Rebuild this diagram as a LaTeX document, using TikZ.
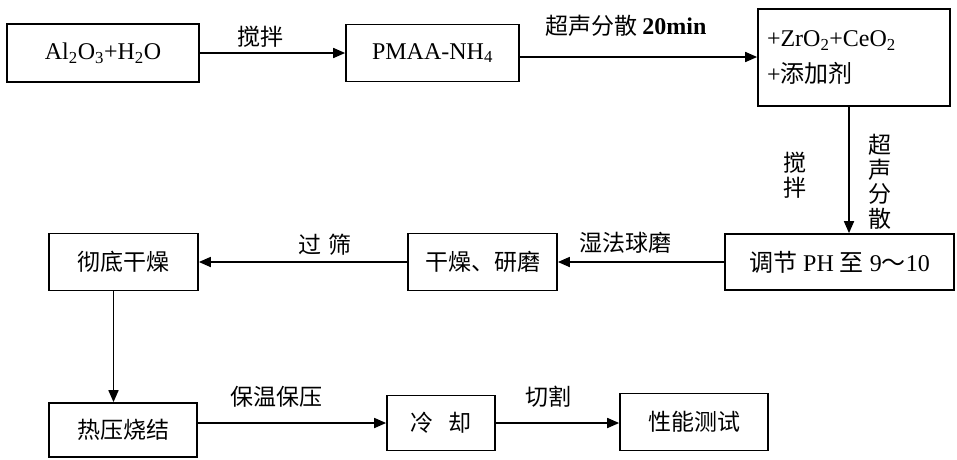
\documentclass[tikz,border=0pt]{standalone}
\usepackage{fontspec}
\setmainfont{Liberation Serif}
\newfontfamily\cjk{Noto Sans CJK SC}
\usetikzlibrary{arrows.meta}
\begin{document}
\begin{tikzpicture}[x=1pt,y=-1pt,
  box/.style={draw,line width=1.7pt,inner sep=0pt,font=\fontsize{24}{28}\selectfont},
  cbox/.style={box,font=\cjk\fontsize{23}{28}\selectfont},
  arr/.style={line width=1.7pt,-{Triangle[length=12pt,width=10pt]}},
  lbl/.style={font=\cjk\fontsize{23}{25}\selectfont,inner sep=0pt},
  vlbl/.style={lbl,align=center,font=\cjk\fontsize{23}{24.5}\selectfont}]
\useasboundingbox (0,0) rectangle (957,459);
% row 1
\node[box,minimum width=192pt,minimum height=58pt] (b1) at (103,53)
  {Al\textsubscript{2}O\textsubscript{3}+H\textsubscript{2}O};
\node[box,minimum width=173pt,minimum height=57pt] (b2) at (432.5,53)
  {PMAA-NH\textsubscript{4}};
\node[box,minimum width=192pt,minimum height=97pt,align=left,text width=174pt,inner xsep=9pt,
  font=\fontsize{24}{36}\selectfont] (b3) at (854,57.5)
  {\raisebox{-4pt}{+ZrO\textsubscript{2}+CeO\textsubscript{2}}\\\raisebox{-4pt}{+{\cjk 添加剂}}};
% row 2
\node[box,minimum width=229pt,minimum height=56pt] (b4) at (839.5,262)
  {{\cjk 调节} PH {\cjk 至} 9{\cjk ～}10};
\node[cbox,minimum width=149pt,minimum height=57pt] (b5) at (482.5,262) {干燥、研磨};
\node[cbox,minimum width=149pt,minimum height=57pt] (b6) at (123.5,262) {彻底干燥};
% row 3
\node[cbox,minimum width=148pt,minimum height=54pt] (b7) at (123,430) {热压烧结};
\node[cbox,minimum width=108pt,minimum height=55pt] (b8) at (441,423) {冷\hspace{16pt}却};
\node[cbox,minimum width=148pt,minimum height=57pt] (b9) at (694,422) {性能测试};
% connectors
\draw[arr] (b1.east) -- (b1.east -| b2.west);
\draw[arr] (b2.east |- 0,57) -- (b3.west |- 0,57);
\draw[arr] ([xshift=-5pt]b3.south) -- ([xshift=-5pt]b3.south |- b4.north);
\draw[arr] (b4.west) -- (b5.east);
\draw[arr] (b5.west) -- (b6.east);
\draw[arr] ([xshift=-10pt]b6.south) -- ([xshift=-10pt]b6.south |- b7.north);
\draw[arr] (b8.west -| b7.east) -- (b8.west);
\draw[arr] (b8.east) -- (b8.east -| b9.west);
% labels
\node[lbl] (l1) at (260,37) {搅拌};
\node[lbl,anchor=west] (l2) at (545,26) {超声分散 {\rmfamily\bfseries\fontsize{24}{25}\selectfont 20min}};
\node[vlbl] (l3) at (795,175) {搅\\拌};
\node[vlbl] (l4) at (880,182) {超\\声\\分\\散};
\node[lbl] (l5) at (625,243) {湿法球磨};
\node[lbl] (l6) at (325,245) {过\hspace{8pt}筛};
\node[lbl] (l7) at (276,397) {保温保压};
\node[lbl] (l8) at (548,397) {切割};
\end{tikzpicture}
\end{document}
